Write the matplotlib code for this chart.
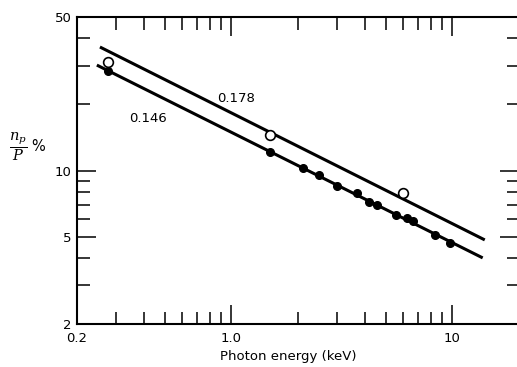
import matplotlib
matplotlib.use("Agg")
import matplotlib.pyplot as plt
from matplotlib.ticker import FixedLocator, NullFormatter

plt.rcParams["font.family"] = ["DejaVu Sans"]
plt.rcParams["mathtext.fontset"] = "dejavuserif"

# open circles (upper line, 0.178) and filled circles (lower line, 0.146)
open_energy = [0.277, 1.49, 5.97]
open_value = [31.2, 14.5, 7.9]
filled_energy = [0.276, 1.49, 2.11, 2.49, 3.0, 3.7, 4.19, 4.55, 5.55, 6.2, 6.6, 8.3, 9.7]
filled_value = [28.3, 12.1, 10.3, 9.5, 8.5, 7.9, 7.2, 7.0, 6.3, 6.1, 5.9, 5.1, 4.7]

# fitted straight lines (end points)
fit_178_energy = [0.254, 14.0]
fit_178_value = [36.5, 4.83]
fit_146_energy = [0.246, 13.7]
fit_146_value = [30.2, 4.0]

x_ticks = [0.2, 1, 10]
x_labels = ["0.2", "1.0", "10"]
x_minor = [0.3, 0.4, 0.5, 0.6, 0.7, 0.8, 0.9, 2, 3, 4, 5, 6, 7, 8, 9]
y_ticks = [2, 5, 10, 50]
y_labels = ["2", "5", "10", "50"]
y_minor = [3, 4, 6, 7, 8, 9, 20, 30, 40]

fig = plt.figure(figsize=(5.17, 3.67), dpi=100)
ax = fig.add_axes([77 / 517, 43 / 367, 442 / 517, 307 / 367])

ax.plot(fit_178_energy, fit_178_value, color="black", lw=2.2, solid_capstyle="butt")
ax.plot(fit_146_energy, fit_146_value, color="black", lw=2.2, solid_capstyle="butt")
ax.plot(filled_energy, filled_value, "o", color="black", ms=5.5, zorder=3)
ax.plot(open_energy, open_value, "o", mfc="white", mec="black", mew=1.2, ms=7, zorder=4)

ax.set_xscale("log")
ax.set_yscale("log")
ax.set_xlim(0.2, 20)
ax.set_ylim(2, 50)

ax.xaxis.set_major_locator(FixedLocator(x_ticks))
ax.set_xticklabels(x_labels)
ax.xaxis.set_minor_locator(FixedLocator(x_minor))
ax.xaxis.set_minor_formatter(NullFormatter())
ax.yaxis.set_major_locator(FixedLocator(y_ticks))
ax.set_yticklabels(y_labels)
ax.yaxis.set_minor_locator(FixedLocator(y_minor))
ax.yaxis.set_minor_formatter(NullFormatter())

ax.tick_params(which="both", direction="in", top=True, right=True, width=1.1, labelsize=9.5)
ax.tick_params(which="major", length=13.5)
ax.tick_params(which="minor", length=9)
ax.tick_params(axis="x", pad=6)
ax.tick_params(axis="y", pad=4)
for s in ax.spines.values():
    s.set_linewidth(1.5)

ax.text(1.05, 21.3, "0.178", fontsize=9.5, ha="center", va="center")
ax.text(0.42, 17.2, "0.146", fontsize=9.5, ha="center", va="center")

ax.set_xlabel("Photon energy (keV)", fontsize=9.5)
ax.xaxis.set_label_coords(0.477, -0.085)
fig.text(9 / 517, 1 - 147 / 367, r"$\dfrac{n_p}{P}$ %", fontsize=10.5, ha="left", va="center")

fig.savefig("out.png", dpi=100)
